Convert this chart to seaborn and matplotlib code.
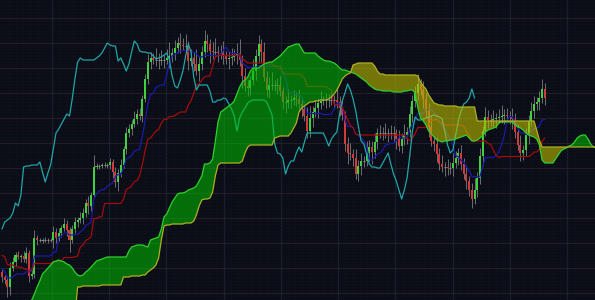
import numpy as np
import pandas as pd
import matplotlib
matplotlib.use("Agg")
import matplotlib.pyplot as plt
import seaborn as sns

# ---------------- data (price units) ----------------
first_open = 28
close = [23, 20, 13, 32, 38, 45, 43, 44, 41, 47, 24, 26, 62, 60, 60, 60, 60, 60, 60, 68, 62, 67, 72, 76, 70, 60,
         71, 78, 80, 82, 87, 97, 94, 105, 133, 134,
         134, 135, 135, 135, 138, 128, 118, 127, 135, 151,
         167, 171, 176, 181, 186, 184, 201, 221, 238, 242,
         240, 240, 240, 240, 240, 242, 244, 247, 252, 257,
         255, 254, 254, 239, 242, 236, 229, 236, 248, 259,
         256, 249, 248, 248, 247, 247, 244, 241, 242, 243,
         245, 247, 240, 224, 214, 212, 220, 229, 244, 256,
         248, 223, 210, 215, 215, 215, 215, 209, 198, 198,
         200, 200, 202, 201, 196, 191, 184, 169, 182, 188,
         192, 197, 199, 200, 200, 200, 200, 200, 198, 192,
         185, 156, 147, 146, 142, 126, 134, 139, 139, 147,
         153, 148, 158, 167, 167, 167, 167, 167, 167, 167,
         161, 154, 161, 165, 168, 186, 199, 207, 216, 210,
         201, 189, 173, 159, 156, 146, 136, 133, 133, 132,
         132, 137, 142, 147, 136, 126, 119, 110, 101, 110,
         122, 144, 169, 183, 180, 180, 181, 182, 183, 184,
         185, 184, 183, 181, 168, 155, 147, 150, 165, 179,
         189, 196, 198, 202, 211, 202]

upper_wick = [3, 2, 4, 6, 5, 3, 4, 2, 5, 6, 3, 4, 8, 3, 2, 2, 3, 2, 2, 6, 4, 5, 3, 6, 4, 3,
              4, 5, 3, 6, 5, 4, 7, 3, 12, 3, 2, 2, 3, 2, 4, 3, 5, 4, 6, 3, 6, 5, 4, 8, 5, 6, 4, 5,
              8, 6, 5, 12, 7, 10, 6, 9, 14, 5, 8, 6, 10, 7, 12, 5, 9, 6, 15, 8, 6, 11, 7, 5, 9, 14, 6,
              8, 12, 5, 7, 9, 6, 10, 14, 5, 8, 6, 4, 12, 7, 9, 5, 10, 6, 8, 13, 5, 7, 9, 4, 6, 11, 5, 8, 6, 10,
              7, 5, 9, 12, 6, 8, 5, 10, 4, 7, 6, 9, 5, 11, 6, 8, 4, 7, 10, 5, 9, 6, 8, 5, 12, 7, 6, 9, 5, 8,
              6, 10, 5, 8, 7, 4, 9, 6, 11, 5, 8, 6, 7, 10, 5, 9, 6, 8, 12, 5, 7, 6, 9, 5, 8, 6, 10, 7, 5, 8,
              6, 9, 5, 7, 12, 6, 8, 5, 10, 7, 6, 9, 5, 8, 11, 6, 7, 5, 9, 6, 8, 10, 5, 7, 6, 9, 8, 5, 7, 10, 6]
lower_wick = [5, 4, 10, 8, 3, 4, 2, 5, 3, 4, 6, 3, 4, 5, 2, 3, 2, 3, 2, 8, 5, 3, 4, 3, 6, 12,
              3, 4, 5, 3, 6, 4, 8, 5, 3, 2, 3, 2, 2, 3, 4, 6, 5, 9, 4, 3, 5, 4, 6, 3, 5, 4, 6, 3,
              5, 7, 4, 6, 9, 5, 8, 4, 10, 6, 7, 5, 8, 4, 6, 9, 5, 7, 4, 10, 6, 5, 8, 12, 7, 5, 9,
              6, 8, 5, 10, 7, 4, 9, 6, 12, 5, 8, 7, 5, 9, 6, 10, 4, 7, 8, 5, 6, 9, 5, 7, 11, 6, 8, 5, 7, 6,
              8, 5, 7, 6, 9, 5, 10, 6, 4, 8, 7, 5, 9, 6, 8, 5, 7, 11, 6, 8, 5, 7, 9, 6, 5, 8, 12, 6, 7, 5,
              7, 5, 9, 6, 8, 10, 5, 7, 6, 9, 5, 8, 6, 7, 5, 9, 6, 10, 5, 7, 8, 6, 5, 9, 7, 6, 8, 5, 7, 6,
              5, 8, 6, 9, 5, 7, 6, 10, 5, 8, 6, 7, 9, 5, 6, 8, 5, 7, 10, 6, 5, 8, 7, 6, 9, 5, 7, 6, 8, 5, 7]

# highs / lows of the 26 sessions before the first visible candle (feed the left end of the lines)
pre_high = [72, 70, 71, 68, 66, 67, 64, 62, 63, 60, 58, 57, 55, 56, 52, 50, 48, 49, 45, 42, 40, 41, 37, 34, 32, 30]
pre_low = [62, 61, 60, 58, 57, 58, 55, 53, 52, 50, 49, 48, 46, 45, 43, 41, 40, 39, 36, 34, 31, 30, 28, 26, 24, 22]

# leading spans, drawn 26 sessions ahead (one value per session slot across the chart)
span_a = [-30, -28, -25, -23, -21, -19, -16, -14, -10, -7, -4, 0,
          6, 13, 19, 26, 29, 32, 35, 38, 39, 40, 39, 38, 36, 35,
          32, 28, 25, 24, 25, 28, 30, 33, 36, 39, 40, 41, 42, 43, 43,
          43, 43, 43, 43, 43, 43, 49, 53, 54, 55, 55, 55, 54, 53,
          60, 61, 62, 63, 71, 83, 86, 92, 98, 102, 106, 107, 107, 108, 110, 111, 112, 114, 119, 124,
          136, 136, 137, 141, 159, 178, 188, 190, 192, 194, 196, 199, 206, 213, 218, 220, 223, 229, 232, 232,
          232, 234, 236, 237, 238, 238, 240, 242, 244, 247, 250, 253, 254, 255, 256, 256,
          251, 247, 247, 247, 247, 247, 244, 242, 240, 239, 239, 238, 237, 235, 232, 230, 230, 229, 228, 227,
          226, 224, 222, 220, 218, 215, 213, 211, 210, 210, 209, 209, 209, 209, 208, 208, 208, 208, 209, 209, 210, 210,
          207, 192, 182, 179, 175, 169, 166, 163, 160, 159, 158, 159, 159, 160, 160, 161, 162, 163, 164, 165, 162, 159, 159,
          160, 162, 164, 168, 170, 171, 172, 173, 177, 178, 178, 178, 178, 178, 175, 173, 172, 170, 167, 165, 164, 163, 161, 155,
          140, 137, 137, 137, 137, 141, 145, 149, 151, 152, 154, 155, 158, 162, 164, 165, 165, 161, 156, 153, 153]
span_b = [-15, -15, -15, -15, -15, -15, -15, -15, -15, -15, -15, -15, -15, -15,
          -15, -15, -15, -15, -15, -15, -15, -15, -15, -15, -15, -15, -15, -15,
          13, 13, 14, 14, 14, 14, 14, 14, 14, 15, 15, 15, 15, 15, 15, 15, 15,
          23, 23, 23, 24, 24, 24, 24, 25, 25, 28, 30, 32, 35, 42, 60, 74, 75, 75,
          76, 76, 76, 76, 76, 77, 77, 77,
          79, 85, 94, 100, 101, 101, 102, 108, 124, 135,
          137, 137, 137, 137, 137, 137, 137, 137, 139, 147, 153, 155,
          155, 155, 155, 155, 155, 155, 155, 155,
          162, 163, 164, 164, 164, 164, 167, 172, 177, 188,
          192, 194, 196, 198, 198, 199, 199, 200, 200, 200, 201,
          203, 206, 210, 215, 221, 224, 226, 227,
          235, 236, 237, 237, 237, 237, 237, 237, 234, 229, 226, 226,
          225, 225, 225, 225, 225, 225, 225, 225, 225, 225, 225, 225, 224,
          218, 214, 211, 205, 201, 197, 196, 195, 195,
          194, 194, 194, 194, 194, 193, 193, 193, 193, 193, 193, 193,
          179, 179, 179, 179, 179, 179, 179, 179, 179, 179, 179,
          179, 179, 179, 179, 179, 179, 179, 179, 179, 179, 179,
          170, 160,
          153, 153, 153, 153, 153, 153, 153, 153, 153, 153, 153,
          153, 153, 153, 153, 153, 153, 153, 153, 153, 153]

SHIFT = 26
assert len(close) == len(upper_wick) == len(lower_wick)
assert len(span_a) == len(span_b)

# ---------------- derived series ----------------
c = np.array(close, float)
o = np.concatenate([[first_open], c[:-1]])
hi = np.maximum(o, c) + np.array(upper_wick, float)
lo = np.minimum(o, c) - np.array(lower_wick, float)
n = len(c)
idx = np.arange(n)

hh = pd.Series(np.concatenate([pre_high, hi]))
ll = pd.Series(np.concatenate([pre_low, lo]))
npre = len(pre_high)
tenkan = ((hh.rolling(9, min_periods=1).max() + ll.rolling(9, min_periods=1).min()) / 2).values[npre:]
kijun = ((hh.rolling(26, min_periods=1).max() + ll.rolling(26, min_periods=1).min()) / 2).values[npre:]

sa = np.array(span_a, float)
sb = np.array(span_b, float)
jj = np.arange(len(sa))

# ---------------- style ----------------
BG = "#0a0c16"
sns.set_style("dark", {"axes.facecolor": BG, "figure.facecolor": BG})

fig = plt.figure(figsize=(5.95, 3.0), dpi=100, facecolor=BG)
ax = fig.add_axes([0, 0, 1, 1], facecolor=BG)

# grid
maj_x = np.arange(18.5 - 21.2, 225, 21.2)
min_x = np.arange(18.5 - 21.2, 225, 21.2 / 8)
maj_y = np.arange(7, 301, 25)
min_y = np.arange(7 - 25, 301, 25 / 8)
ax.set_xticks(maj_x)
ax.set_xticks(min_x, minor=True)
ax.set_yticks(maj_y)
ax.set_yticks(min_y, minor=True)
ax.grid(which="minor", axis="both", color="#10131e", lw=0.4, zorder=0)
ax.grid(which="major", axis="x", color="#1c2130", lw=0.9, zorder=0)
ax.grid(which="major", axis="y", color="#221e28", lw=0.9, zorder=0)
ax.tick_params(which="both", length=0, labelbottom=False, labelleft=False)
for s in ax.spines.values():
    s.set_visible(False)
ax.set_axisbelow(True)

# candles
ax.vlines(idx, lo, hi, color="#7e7e7e", lw=0.7, alpha=0.85, zorder=2)
up = c > o
dn = c < o
dj = c == o
ax.bar(idx[up], (c - o)[up], bottom=o[up], width=0.75, color="#3fcf3f", lw=0, zorder=3)
ax.bar(idx[dn], (o - c)[dn], bottom=c[dn], width=0.75, color="#d23a3a", lw=0, zorder=3)
ax.hlines(c[dj], idx[dj] - 0.38, idx[dj] + 0.38, color="#8a8a8a", lw=0.8, zorder=3)

# tenkan / kijun / chikou
sns.lineplot(x=idx, y=tenkan, ax=ax, color="#1a1aa8", lw=0.9, estimator=None, sort=False, zorder=4)
sns.lineplot(x=idx, y=kijun, ax=ax, color="#a00d0d", lw=0.9, estimator=None, sort=False, zorder=4)
sns.lineplot(x=idx[SHIFT:] - SHIFT, y=c[SHIFT:], ax=ax, color="#1fa6a6", lw=0.9,
             estimator=None, sort=False, zorder=4)

# cloud
ax.fill_between(jj, sa, sb, where=sa >= sb, interpolate=True, color="#00c000", alpha=0.55, lw=0, zorder=5)
ax.fill_between(jj, sa, sb, where=sa < sb, interpolate=True, color="#bcbc00", alpha=0.6, lw=0, zorder=5)
sns.lineplot(x=jj, y=sa, ax=ax, color="#2fd02f", lw=0.9, estimator=None, sort=False, zorder=6)
sns.lineplot(x=jj, y=sb, ax=ax, color="#b0b024", lw=0.9, estimator=None, sort=False, zorder=6)

ax.set_xlim(-0.74, 219.6)
ax.set_ylim(0, 300)
ax.set_xlabel("")
ax.set_ylabel("")

fig.savefig("out.png", dpi=100, facecolor=BG)
